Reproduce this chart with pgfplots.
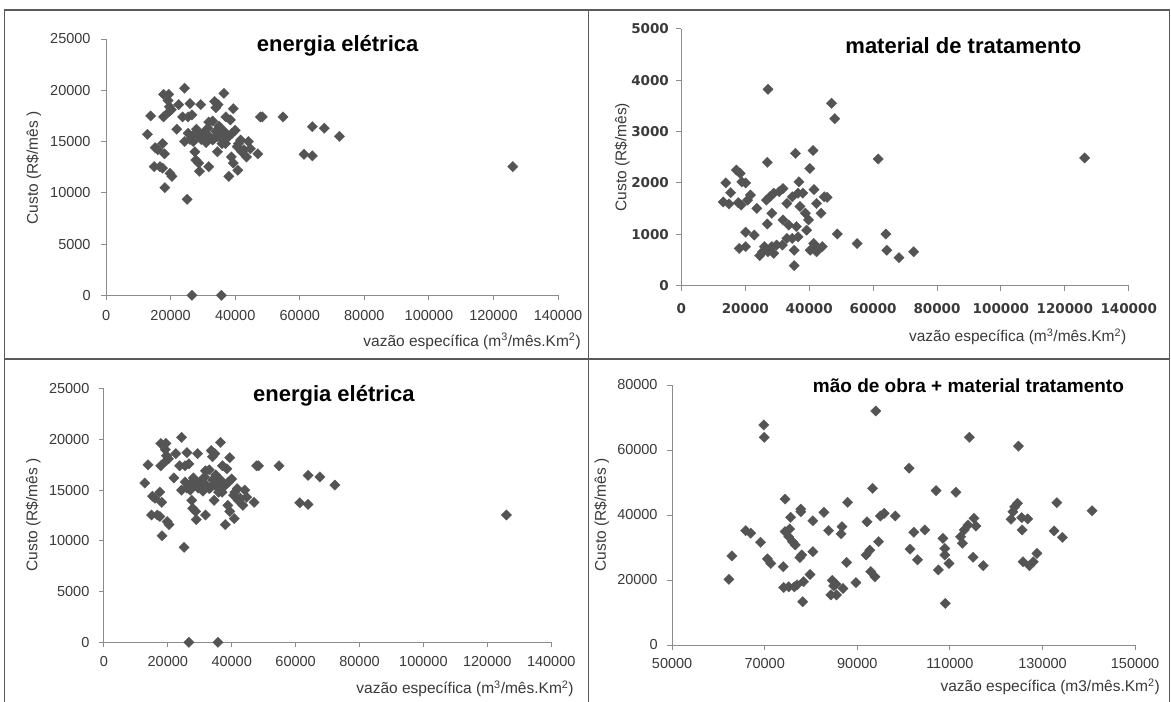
\documentclass[border=0pt]{standalone}
\usepackage{pgfplots}
\usepackage{pgfplotstable}
\pgfplotsset{compat=1.18}
\usepackage{fontspec}
\setmainfont{Liberation Sans}
\newfontfamily\djv{DejaVu Sans}

\definecolor{axgray}{HTML}{8C8C8C}
\definecolor{mkgray}{HTML}{545454}
\definecolor{txtgray}{HTML}{3A3A3A}
\definecolor{framegray}{HTML}{5A5A5A}

% energia eletrica: vazao especifica x custo mensal
\pgfplotstableread{
x y
12800 15700
13800 17500
15200 14400
14900 12550
16700 12550
17500 12400
17500 14800
18100 13800
17800 17400
17800 19600
19400 19600
19200 19000
19600 18400
20200 18100
19800 11900
20400 11600
18200 10500
21900 16200
22500 18600
24300 20200
23700 17400
24300 15000
25400 17400
25100 9360
26000 18700
26600 17600
25400 15800
26600 15500
27500 14000
27800 13200
28300 16000
29300 18600
28900 15500
28700 12900
28900 12100
30700 15150
31500 16300
31800 16900
31800 12550
33000 15150
34000 16000
33600 18900
34700 18600
34500 14000
35300 15800
35900 14800
36500 19700
37100 17400
38500 17100
38000 11600
38800 13500
39400 18200
40000 16100
39400 12900
40600 14500
40800 12200
41700 15150
42700 14200
43500 13500
44100 15000
44700 14300
47000 13800
47800 17400
48400 17400
54800 17400
61300 13750
63900 13600
63900 16450
67600 16300
72300 15500
126000 12550
26600 0
35700 0
30000 15800
32000 15500
33500 15300
34500 15500
36000 15200
37000 14800
31000 14900
29500 15200
35000 16500
33000 17000
36500 16000
38000 15500
27000 15000
28000 16200
26000 15200
16000 14200
19500 17900
34000 18300
39000 15800
41000 14800
42000 14000
}\energia

% material de tratamento
\pgfplotstableread{
x y
27100 3820
47000 3550
48000 3250
35700 2575
41200 2630
26900 2400
40200 2280
61600 2465
126200 2485
13900 2000
17200 2250
18400 2185
18900 2020
20100 2000
15400 1810
13100 1630
14900 1590
17800 1615
18700 1570
20700 1665
21600 1765
23600 1505
18100 725
20100 760
20100 1040
22800 985
24500 585
26900 1200
26600 1665
27700 1730
28900 1800
28300 1410
30600 1830
31800 1890
33000 1600
34700 1730
36800 2020
36500 1800
37100 1540
38800 1410
39800 1280
39200 1080
38000 1800
41500 1870
42300 1600
43700 1410
44700 1730
45600 1720
48800 1005
55000 820
64000 1005
64300 690
68100 545
72700 660
35300 390
35300 690
31800 1280
33600 1180
36000 1150
33000 920
34700 920
36500 950
31600 790
28300 760
28900 630
27100 660
26000 760
25400 660
29800 790
40300 690
41400 820
42300 660
44100 760
42900 725
}\material

% mao de obra + material de tratamento
\pgfplotstableread{
x y
62270 20200
62900 27400
65900 35200
67000 34400
69100 31600
69800 67700
69900 63900
70600 26500
71300 25100
74000 24100
74400 44900
74400 34900
75400 35700
75600 39300
75200 33300
76000 31800
76600 30800
74100 17700
75200 17900
76400 17900
77000 18500
77600 26900
78000 27700
77800 41800
77800 41000
78400 19500
78200 13300
79800 21700
80400 28700
80400 38200
82800 40800
83800 35200
84600 19900
84900 18200
84300 15400
85500 15400
85400 18700
86500 34200
86700 36400
86900 17400
87700 25400
87900 43900
89700 19200
92100 37900
91900 27700
92700 29200
93300 48200
94000 72000
92900 22600
93800 21000
94600 31800
95000 39700
95800 40500
98200 39700
101200 54400
101400 29500
102200 34700
103000 26200
104600 35400
107000 47500
107500 23100
108500 32800
108900 29700
108900 27700
109000 12800
109800 25100
111300 47000
112300 33300
112700 31300
113100 35400
113900 36900
114200 63900
115200 39000
115600 36600
115000 27000
117200 24400
123200 38700
123600 41000
124000 42500
124600 43600
124800 61200
125500 39200
125600 35400
126800 38800
125800 25600
127200 24400
128000 25600
128800 28200
132500 35100
133100 43800
134300 33100
140700 41300
}\maoobra

\pgfplotsset{
  panel/.style={
    scale only axis,
    axis x line*=bottom,
    axis y line*=left,
    axis line style={draw=axgray, line width=0.9pt},
    every tick/.style={draw=axgray, line width=0.9pt},
    tick align=outside,
    major tick length=5pt,
    enlargelimits=false,
    clip=false,
    scaled ticks=false,
    /pgf/number format/fixed,
    /pgf/number format/precision=0,
    /pgf/number format/assume math mode=true,
    /pgf/number format/set thousands separator={},
    tick label style={font=\fontsize{14.5}{16}\selectfont, text=txtgray},
    xticklabel style={yshift=-6pt},
    yticklabel style={xshift=-6pt},
    label style={font=\fontsize{15.5}{17}\selectfont, text=txtgray},
    % cancel the default 6pt lift of the title and place it by its baseline
    title style={font=\fontsize{22}{24}\selectfont\bfseries, text=black, anchor=base, yshift=-6pt},
  },
  pts/.style={only marks, mark=square*, mark size=3.7pt,
    mark options={rotate=45, fill=mkgray, draw=mkgray, line width=0.2pt}},
}

\begin{document}
\begin{tikzpicture}
\useasboundingbox (0pt,0pt) rectangle (1171pt,702pt);
\fill[white] (0pt,0pt) rectangle (1171pt,702pt);

% panel frames
\begin{scope}[draw=framegray, line width=1.6pt]
  \draw (4.5pt,0pt) -- (4.5pt,692pt) -- (1169.5pt,692pt) -- (1169.5pt,0pt);
  \draw (588.3pt,0pt) -- (588.3pt,692pt);
  \draw (4.5pt,342.7pt) -- (1169.5pt,342.7pt);
\end{scope}

% top left
\begin{axis}[panel,
  at={(106.1pt,406.7pt)}, anchor=south west,
  width=451.9pt, height=256.3pt,
  xmin=0, xmax=140000, ymin=0, ymax=25000,
  xtick={0,20000,...,140000}, ytick={0,5000,...,25000},
  xticklabel style={yshift=-1pt},
  yticklabel style={xshift=-1pt},
  title={energia elétrica},
  title style={at={(axis description cs:0.5125,0.950)}},
  xlabel={vazão específica (m\textsuperscript{3}/mês.Km\textsuperscript{2})},
  xlabel style={at={(axis description cs:1.058,-0.180)}, anchor=east},
  ylabel={Custo (R\$/mês )},
  ylabel style={at={(axis description cs:-0.16,0.497)}, anchor=center},
]
\addplot[pts] table[x=x, y=y] {\energia};
\end{axis}

% top right
\begin{axis}[panel,
  at={(681.4pt,416.3pt)}, anchor=south west,
  width=447.3pt, height=257pt,
  xmin=0, xmax=140000, ymin=0, ymax=5000,
  xtick={0,20000,...,140000}, ytick={0,1000,...,5000},
  tick label style={font=\djv\bfseries\fontsize{13.5}{15}\selectfont, text=txtgray},
  xticklabel style={yshift=-3pt},
  yticklabel style={xshift=2pt},
  title={material de tratamento},
  title style={at={(axis description cs:0.6305,0.9016)}},
  xlabel={vazão específica (m\textsuperscript{3}/mês.Km\textsuperscript{2})},
  xlabel style={at={(axis description cs:1.0025,-0.198)}, anchor=east},
  ylabel={Custo (R\$/mês)},
  ylabel style={at={(axis description cs:-0.132,0.5)}, anchor=center},
]
\addplot[pts] table[x=x, y=y] {\material};
\end{axis}

% bottom left
\begin{axis}[panel,
  at={(103.9pt,59.7pt)}, anchor=south west,
  width=447.3pt, height=253.6pt,
  xmin=0, xmax=140000, ymin=0, ymax=25000,
  xtick={0,20000,...,140000}, ytick={0,5000,...,25000},
  title={energia elétrica},
  title style={at={(axis description cs:0.514,0.949)}},
  xlabel={vazão específica (m\textsuperscript{3}/mês.Km\textsuperscript{2})},
  xlabel style={at={(axis description cs:1.058,-0.183)}, anchor=east},
  ylabel={Custo (R\$/mês )},
  ylabel style={at={(axis description cs:-0.158,0.502)}, anchor=center},
]
\addplot[pts] table[x=x, y=y] {\energia};
\end{axis}

% bottom right
\begin{axis}[panel,
  at={(672.1pt,57pt)}, anchor=south west,
  width=463pt, height=260pt,
  xmin=50000, xmax=150000, ymin=0, ymax=80000,
  xtick={50000,70000,...,150000}, ytick={0,20000,...,80000},
  xticklabel style={yshift=1pt},
  title={mão de obra + material tratamento},
  title style={at={(axis description cs:0.640,0.972)}, font=\fontsize{19}{21}\selectfont\bfseries},
  xlabel={vazão específica (m3/mês.Km\textsuperscript{2})},
  xlabel style={at={(axis description cs:1.061,-0.160)}, anchor=east},
  ylabel={Custo (R\$/mês )},
  ylabel style={at={(axis description cs:-0.152,0.5)}, anchor=center},
]
\addplot[pts] table[x=x, y=y] {\maoobra};
\end{axis}
\end{tikzpicture}
\end{document}
